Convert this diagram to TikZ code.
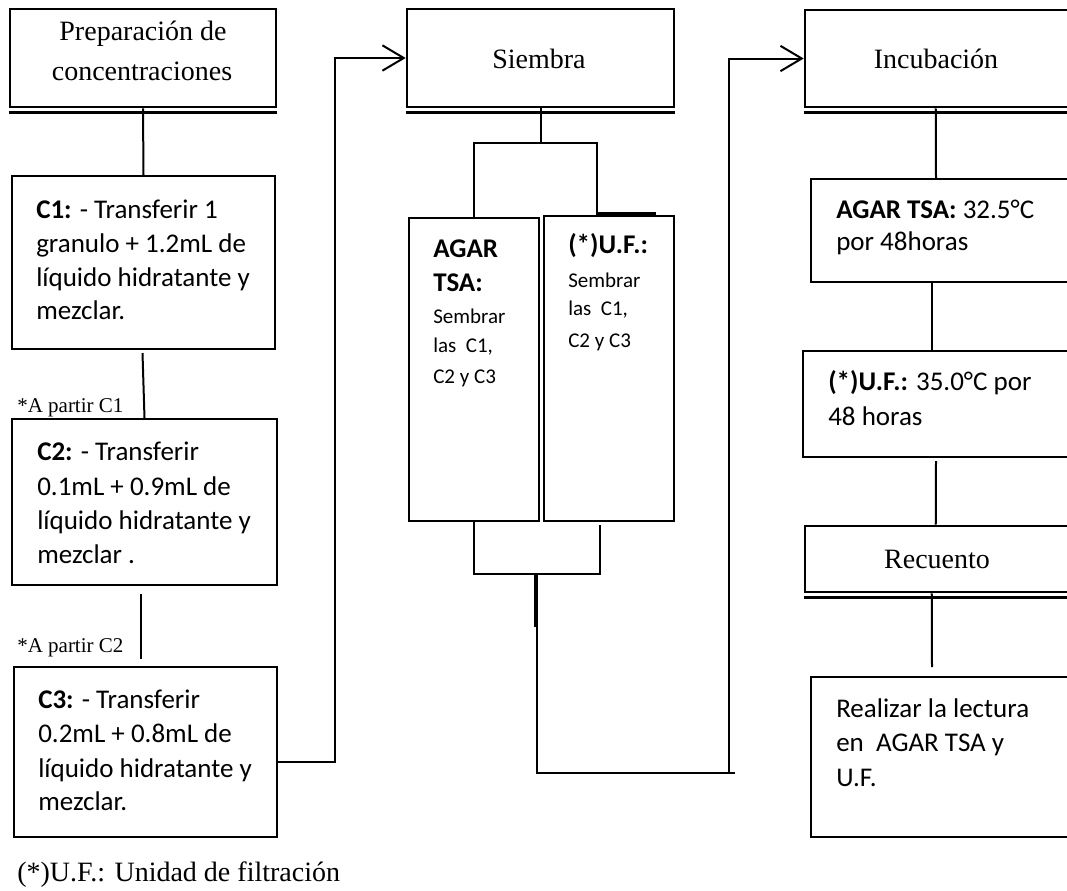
\documentclass[tikz,border=0pt]{standalone}
\usepackage{fontspec}
\setmainfont{Liberation Serif}
\newfontfamily\bodyf{Carlito}
\usetikzlibrary{arrows.meta,calc,fit}
\begin{document}
\begin{tikzpicture}[x=0.75pt,y=-0.75pt,
  box/.style={draw,line width=1.5pt,inner sep=0pt},
  hbox/.style={draw,line width=1.9pt,inner sep=0pt},
  dline/.style={line width=2.3pt},
  conn/.style={line width=1.5pt},
  arr/.style={-{Straight Barb[length=16pt,width=19pt]}},
  ht/.style={font=\fontsize{21}{25}\selectfont, inner sep=0pt, anchor=base},
  bt/.style={font=\bodyf\fontsize{20.25}{24}\selectfont, inner sep=0pt, anchor=base west},
  bb/.style={font=\bodyf\bfseries\fontsize{20.25}{24}\selectfont, inner sep=0pt, anchor=base west},
  st/.style={font=\bodyf\fontsize{15.75}{19}\selectfont, inner sep=0pt, anchor=base west},
  nt/.style={font=\fontsize{15.75}{19}\selectfont, inner sep=0pt, anchor=base west},
]
\useasboundingbox (0,0) rectangle (1067,890);
\clip (0,0) rectangle (1067,890);

% ---------- left column ----------
\node[hbox, fit={(10,9) (276,107)}] (prep) {};
\draw[dline] ($(prep.south west)+(0,4.5)$) -- ($(prep.south east)+(0,4.5)$);
\node[ht] (prepa) at (143,40) {Preparación de};
\node[ht] (prepb) at (142,80) {concentraciones};

\node[box, fit={(12,176) (275,349)}] (c1) {};
\node[bt] (c1a) at (36,218) {\textbf{C1:} - Transferir 1};
\node[bt] (c1b) at (36,252) {granulo + 1.2mL de};
\node[bt] (c1c) at (36,286) {líquido hidratante y};
\node[bt] (c1d) at (36,319) {mezclar.};

\node[nt] (n1) at (17,412) {*A partir C1};

\node[box, fit={(12,419) (277,585)}] (c2) {};
\node[bt] (c2a) at (37,460) {\textbf{C2:} - Transferir};
\node[bt] (c2b) at (37,495) {0.1mL + 0.9mL de};
\node[bt] (c2c) at (37,529) {líquido hidratante y};
\node[bt] (c2d) at (37,563) {mezclar .};

\node[nt] (n2) at (17,652) {*A partir C2};

\node[box, fit={(14,667) (277,837)}] (c3) {};
\node[bt] (c3a) at (38,708) {\textbf{C3:} - Transferir};
\node[bt] (c3b) at (38,742) {0.2mL + 0.8mL de};
\node[bt] (c3c) at (38,777) {líquido hidratante y};
\node[bt] (c3d) at (38,810) {mezclar.};

\node[ht, anchor=base west] (foot) at (17,881) {(*)U.F.: Unidad de filtración};

% ---------- middle column ----------
\node[hbox, fit={(407,9) (674,107)}] (siem) {};
\draw[dline] ($(siem.south west)+(0,4.5)$) -- ($(siem.south east)+(0,4.5)$);
\node[ht] (siemt) at (539,68) {Siembra};

\node[box, fit={(409,218) (539,521)}] (agar) {};
\node[bb] (ag1) at (433,257) {AGAR};
\node[bb] (ag2) at (433,291) {TSA:};
\node[st] (ag3) at (433,323) {Sembrar};
\node[st] (ag4) at (433,352) {las~~C1,};
\node[st] (ag5) at (433,383) {C2 y C3};

\node[box, fit={(544,216) (674,521)}] (uf) {};
\node[bb] (uf1) at (568,253) {(*)U.F.:};
\node[st] (uf2) at (568,287) {Sembrar};
\node[st] (uf3) at (568,315) {las~~C1,};
\node[st] (uf4) at (568,347) {C2 y C3};

% ---------- right column ----------
\node[hbox, fit={(805,10) (1075,107)}] (incub) {};
\draw[dline] ($(incub.south west)+(0,4.5)$) -- ($(incub.south east)+(0,4.5)$);
\node[ht] (incubt) at (936,68) {Incubación};

\node[box, fit={(811,179) (1075,282)}] (ragar) {};
\node[bt] (ra1) at (836,218) {\textbf{AGAR TSA:} 32.5°C};
\node[bt] (ra2) at (836,250) {por 48horas};

\node[box, fit={(803,351) (1075,457)}] (ruf) {};
\node[bt] (ru1) at (828,390) {\textbf{(*)U.F.:} 35.0°C por};
\node[bt] (ru2) at (828,425) {48 horas};

\node[hbox, fit={(805,526) (1075,592)}] (recu) {};
\draw[dline] ($(recu.south west)+(0,4.5)$) -- ($(recu.south east)+(0,4.5)$);
\node[ht] (recut) at (937,568) {Recuento};

\node[box, fit={(811,677) (1075,837)}] (real) {};
\node[bt] (re1) at (836,717) {Realizar la lectura};
\node[bt] (re2) at (836,751) {en~ AGAR TSA y};
\node[bt] (re3) at (836,786) {U.F.};

% ---------- connectors ----------
\draw[conn] (prep.south) -- (c1.north);
\draw[conn] ($(c1.south)+(-1,3)$) -- (c2.north);
\draw[conn] ($(c2.south)+(-4,8)$) -- ($(c3.north)+(-5,-7)$);

\coordinate (j1) at (335,762);
\draw[conn,arr] (c3.east |- j1) -- (j1) |- (siem.west);

\draw[conn] (siem.south) -- ++(0,35) coordinate (s1);
\draw[conn] (agar.north) |- (s1) -| ($(uf.north west)+(54,0)$);
\draw[line width=2.4pt] ($(uf.north west)+(54,-1.5)$) -- ++(59,0);

\coordinate (m1) at (537,574);
\draw[conn] (agar.south) |- (m1);
\draw[conn] ($(uf.south west)+(57,3)$) |- (m1);
\draw[line width=2.6pt] ($(m1)+(-1.5,0)$) -- ++(0,53);
\coordinate (j3) at (729,773);
\draw[conn] (m1) |- ($(j3)+(6,0)$);
\draw[conn,arr] (j3) |- (incub.west);

\draw[conn] ($(incub.south west)+(132,0)$) -- ($(ragar.north west)+(126,0)$);
\draw[conn] ($(ragar.south west)+(122,0)$) -- ($(ruf.north west)+(130,0)$);
\draw[conn] ($(ruf.south west)+(134,3)$) -- ($(recu.north west)+(132,0)$);
\draw[conn] ($(recu.south west)+(128,0)$) -- ($(real.north west)+(122,-9)$);
\end{tikzpicture}
\end{document}
